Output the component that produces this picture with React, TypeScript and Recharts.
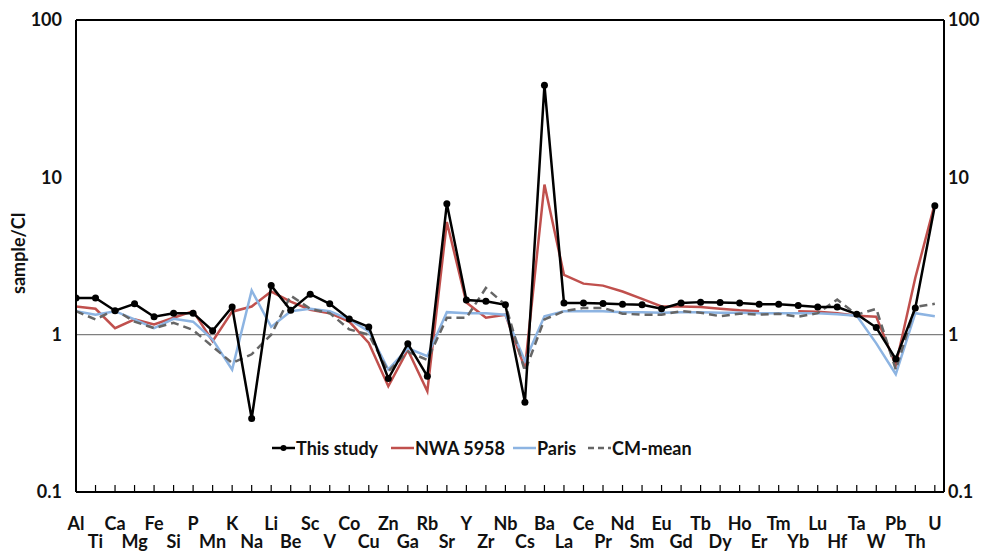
import React from 'react';
import { LineChart, Line, XAxis, YAxis, ReferenceLine, Legend } from 'recharts';

const elements = ['Al','Ti','Ca','Mg','Fe','Si','P','Mn','K','Na','Li','Be','Sc','V','Co','Cu','Zn','Ga','Rb','Sr','Y','Zr','Nb','Cs','Ba','La','Ce','Pr','Nd','Sm','Eu','Gd','Tb','Dy','Ho','Er','Tm','Yb','Lu','Hf','Ta','W','Pb','Th','U'];

const thisStudy = [1.71,1.71,1.42,1.57,1.30,1.37,1.37,1.06,1.50,0.293,2.05,1.43,1.81,1.57,1.26,1.12,0.526,0.877,0.544,6.8,1.66,1.63,1.55,0.372,38.5,1.59,1.59,1.58,1.56,1.55,1.46,1.59,1.61,1.60,1.59,1.56,1.56,1.53,1.50,1.50,1.35,1.11,0.70,1.48,6.6];

const nwa5958 = [1.51,1.46,1.10,1.25,1.16,1.28,1.41,0.91,1.40,1.51,1.88,1.62,1.44,1.37,1.21,0.885,0.47,0.80,0.437,5.2,1.6,1.28,1.34,0.61,9.0,2.4,2.11,2.05,1.88,1.69,1.51,1.51,1.50,1.46,1.43,1.41,null,1.41,1.40,1.37,1.32,1.30,0.64,2.3,6.8];

const paris = [1.41,1.34,1.41,1.25,1.10,1.26,1.21,0.93,0.60,1.91,1.12,1.41,1.46,1.41,1.25,1.05,0.60,0.82,0.73,1.39,1.37,1.37,1.34,0.68,1.31,1.41,1.41,1.41,1.39,1.39,1.38,1.39,1.39,1.38,1.38,1.37,1.37,1.37,1.37,1.35,1.32,0.88,0.56,1.37,1.31];

const cmMean = [1.41,1.25,1.44,1.21,1.10,1.19,1.07,0.84,0.66,0.75,1.0,1.77,1.46,1.37,1.08,1.0,0.585,0.78,0.69,1.28,1.28,1.98,1.55,0.585,1.25,1.41,1.48,1.48,1.36,1.34,1.34,1.41,1.38,1.31,1.36,1.34,1.36,1.30,1.37,1.67,1.34,1.46,0.60,1.50,1.57];

const yTicks = [0.1, 1, 10, 100];
const xTicks = elements.map((_, i) => i);

const data = elements.map((el, i) => ({
  idx: i,
  el,
  thisStudy: thisStudy[i],
  nwa: nwa5958[i],
  paris: paris[i],
  cm: cmMean[i],
}));

const FONT = 'Lato, "Open Sans", sans-serif';

const legendItems = [
  { key: 'thisStudy', name: 'This study', color: '#000000', dash: undefined as string | undefined, dot: true, left: 272 },
  { key: 'nwa', name: 'NWA 5958', color: '#c0504d', dash: undefined, dot: false, left: 391 },
  { key: 'paris', name: 'Paris', color: '#8db4e2', dash: undefined, dot: false, left: 513 },
  { key: 'cm', name: 'CM-mean', color: '#666666', dash: '6 4', dot: false, left: 588 },
];

const XTick = (props: any) => {
  const { x, y, payload } = props;
  const i = payload.value as number;
  const row = i % 2;
  return (
    <g>
      <line x1={x} x2={x} y1={y - 7} y2={y} stroke="#000" strokeWidth={1.2} />
      <text x={x} y={y + (row === 0 ? 38 : 56)} textAnchor="middle" fontFamily={FONT} fontWeight={700} fontSize={18} fill="#111">
        {elements[i]}
      </text>
    </g>
  );
};

const renderLegend = () => (
  <div style={{ position: 'relative', width: 987, height: 22 }}>
    {legendItems.map((it) => (
      <div key={it.key} style={{ position: 'absolute', left: it.left, top: 0, height: 22, display: 'flex', alignItems: 'center', whiteSpace: 'nowrap' }}>
        <svg width={23} height={10} style={{ display: 'block' }}>
          <line x1={0} x2={23} y1={5} y2={5} stroke={it.color} strokeWidth={2.5} strokeDasharray={it.dash} />
          {it.dot && <circle cx={11.5} cy={5} r={3} fill={it.color} />}
        </svg>
        <span style={{ fontFamily: FONT, fontWeight: 700, fontSize: 18, marginLeft: 1, color: '#111', lineHeight: '22px' }}>{it.name}</span>
      </div>
    ))}
  </div>
);

const fmt = (v: number) => String(v);

export default function App() {
  return (
    <div style={{ position: 'absolute', left: 0, top: 0, width: 987, height: 559, background: '#fff' }}>
      <LineChart width={987} height={559} data={data} margin={{ top: 20, right: 0, bottom: 0, left: 0 }}>
        <XAxis
          dataKey="idx"
          type="number"
          domain={[0, 44.47]}
          allowDataOverflow
          ticks={xTicks}
          interval={0}
          height={67}
          tickSize={0}
          tickMargin={0}
          tickLine={false}
          axisLine={{ stroke: '#000', strokeWidth: 2 }}
          tick={<XTick />}
        />
        <YAxis
          yAxisId="left"
          scale="log"
          domain={[0.1, 100]}
          allowDataOverflow
          ticks={yTicks}
          width={76}
          tickSize={0}
          tickMargin={14}
          tickLine={false}
          tickFormatter={fmt}
          axisLine={{ stroke: '#000', strokeWidth: 2 }}
          tick={{ fontFamily: FONT, fontWeight: 700, fontSize: 18, fill: '#111' }}
        />
        <YAxis
          yAxisId="right"
          orientation="right"
          scale="log"
          domain={[0.1, 100]}
          allowDataOverflow
          ticks={yTicks}
          width={43}
          tickSize={0}
          tickMargin={4}
          tickLine={false}
          tickFormatter={fmt}
          axisLine={{ stroke: '#000', strokeWidth: 2 }}
          tick={{ fontFamily: FONT, fontWeight: 700, fontSize: 18, fill: '#111' }}
        />
        <ReferenceLine yAxisId="left" y={1} stroke="#7f7f7f" strokeWidth={1.3} />
        <ReferenceLine yAxisId="left" y={100} stroke="#000" strokeWidth={2} />
        <Line yAxisId="left" dataKey="nwa" name="NWA 5958" stroke="#c0504d" strokeWidth={2.5} dot={false} isAnimationActive={false} connectNulls={false} type="linear" />
        <Line yAxisId="left" dataKey="paris" name="Paris" stroke="#8db4e2" strokeWidth={2.5} dot={false} isAnimationActive={false} type="linear" />
        <Line yAxisId="left" dataKey="cm" name="CM-mean" stroke="#666666" strokeWidth={2.5} strokeDasharray="8 5" dot={false} isAnimationActive={false} type="linear" />
        <Line yAxisId="left" dataKey="thisStudy" name="This study" stroke="#000000" strokeWidth={2.5} dot={{ r: 3.5, fill: '#000', stroke: '#000', strokeWidth: 0 }} isAnimationActive={false} type="linear" />
        <Legend
          layout="horizontal"
          verticalAlign="middle"
          align="center"
          content={renderLegend}
          wrapperStyle={{ position: 'absolute', left: 0, top: 437, width: 987, height: 22 }}
        />
      </LineChart>
      <div
        style={{
          position: 'absolute',
          left: 18,
          top: 253,
          transform: 'translate(-50%, -50%) rotate(-90deg)',
          fontFamily: FONT,
          fontWeight: 700,
          fontSize: 18,
          color: '#111',
          whiteSpace: 'nowrap',
        }}
      >
        sample/CI
      </div>
    </div>
  );
}
